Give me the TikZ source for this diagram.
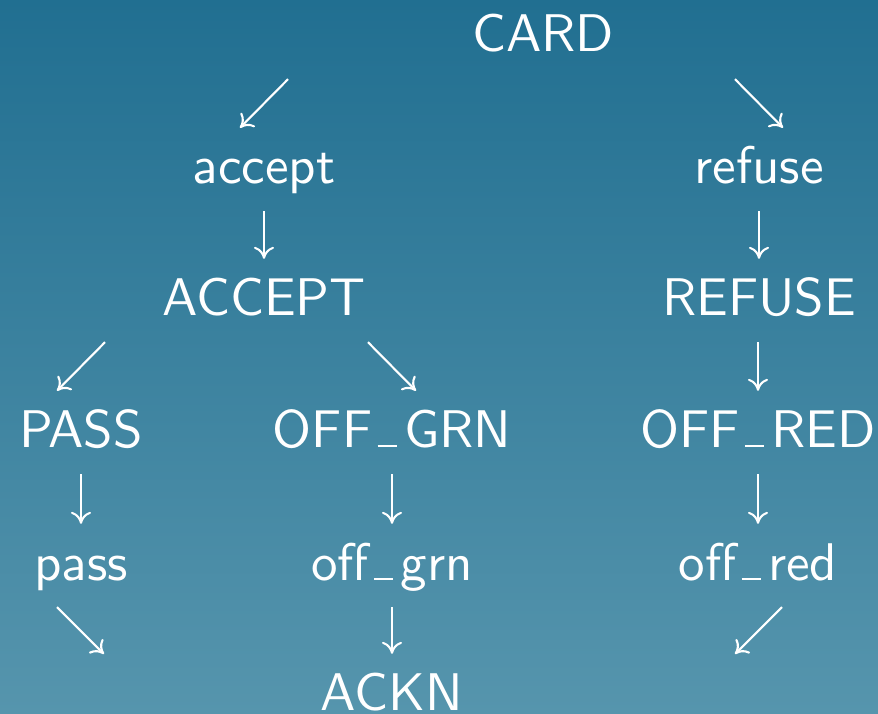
\documentclass[tikz,border=0pt]{standalone}
\usepackage{fontspec}
\setsansfont{lmsans10-regular}[Extension=.otf]
\usetikzlibrary{arrows.meta,calc}
\definecolor{slidetop}{RGB}{33,111,145}
\definecolor{slidebot}{RGB}{86,149,173}
\newcommand{\usc}{\kern.1em\rule{.36em}{2.4pt}\kern.14em}
\begin{document}
\begin{tikzpicture}[x=1pt,y=-1pt,
  lbl/.style={anchor=base, inner sep=0pt, text=white, text height=40pt, text depth=12pt,
    font=\sffamily\fontsize{53}{60}\selectfont},
  arr/.style={draw=white, line width=2.1pt, -{Computer Modern Rightarrow[length=12pt,width=20pt]}}]
\shade [top color=slidetop, bottom color=slidebot] (0,0) rectangle (878,714);
\useasboundingbox (0,0) rectangle (878,714);
\node [lbl] (card) at (543,52) {CARD};
\node [lbl] (accept) at (264,184) {accept};
\node [lbl] (refuse) at (759,184) {refuse};
\node [lbl] (ACCEPT) at (264,315) {ACCEPT};
\node [lbl] (REFUSE) at (759,315) {REFUSE};
\node [lbl] (PASS) at (81,447) {PASS};
\node [lbl] (OFFGRN) at (392,447) {OFF\usc GRN};
\node [lbl] (OFFRED) at (758,447) {OFF\usc RED};
\node [lbl] (pass) at (81,580) {pass};
\node [lbl] (offgrn) at (392,580) {off\usc grn};
\node [lbl] (offred) at (758,580) {off\usc red};
\node [lbl] (ACKN) at (392,710) {ACKN};
\coordinate (passout) at (104,654);
\coordinate (offredout) at (735,654);
\draw [arr] ($(card.south -| accept)+(24,15)$) -- ($(accept.north)+(-24,-16)$);
\draw [arr] ($(card.south -| refuse)+(-24,15)$) -- ($(refuse.north)+(24,-16)$);
\draw [arr] ($(accept.south -| ACCEPT)+(0,15)$) -- ($(ACCEPT.north)+(0,-16)$);
\draw [arr] ($(refuse.south -| REFUSE)+(0,15)$) -- ($(REFUSE.north)+(0,-16)$);
\draw [arr] ($(ACCEPT.south -| PASS)+(24,15)$) -- ($(PASS.north)+(-24,-16)$);
\draw [arr] ($(ACCEPT.south -| OFFGRN)+(-24,15)$) -- ($(OFFGRN.north)+(24,-16)$);
\draw [arr] ($(REFUSE.south -| OFFRED)+(0,15)$) -- ($(OFFRED.north)+(0,-16)$);
\draw [arr] ($(PASS.south -| pass)+(0,15)$) -- ($(pass.north)+(0,-16)$);
\draw [arr] ($(OFFGRN.south -| offgrn)+(0,15)$) -- ($(offgrn.north)+(0,-16)$);
\draw [arr] ($(OFFRED.south -| offred)+(0,15)$) -- ($(offred.north)+(0,-16)$);
\draw [arr] ($(pass.south)+(-24,15)$) -- (passout);
\draw [arr] ($(offgrn.south -| ACKN)+(0,15)$) -- ($(ACKN.north)+(0,-16)$);
\draw [arr] ($(offred.south)+(24,15)$) -- (offredout);
\end{tikzpicture}
\end{document}
